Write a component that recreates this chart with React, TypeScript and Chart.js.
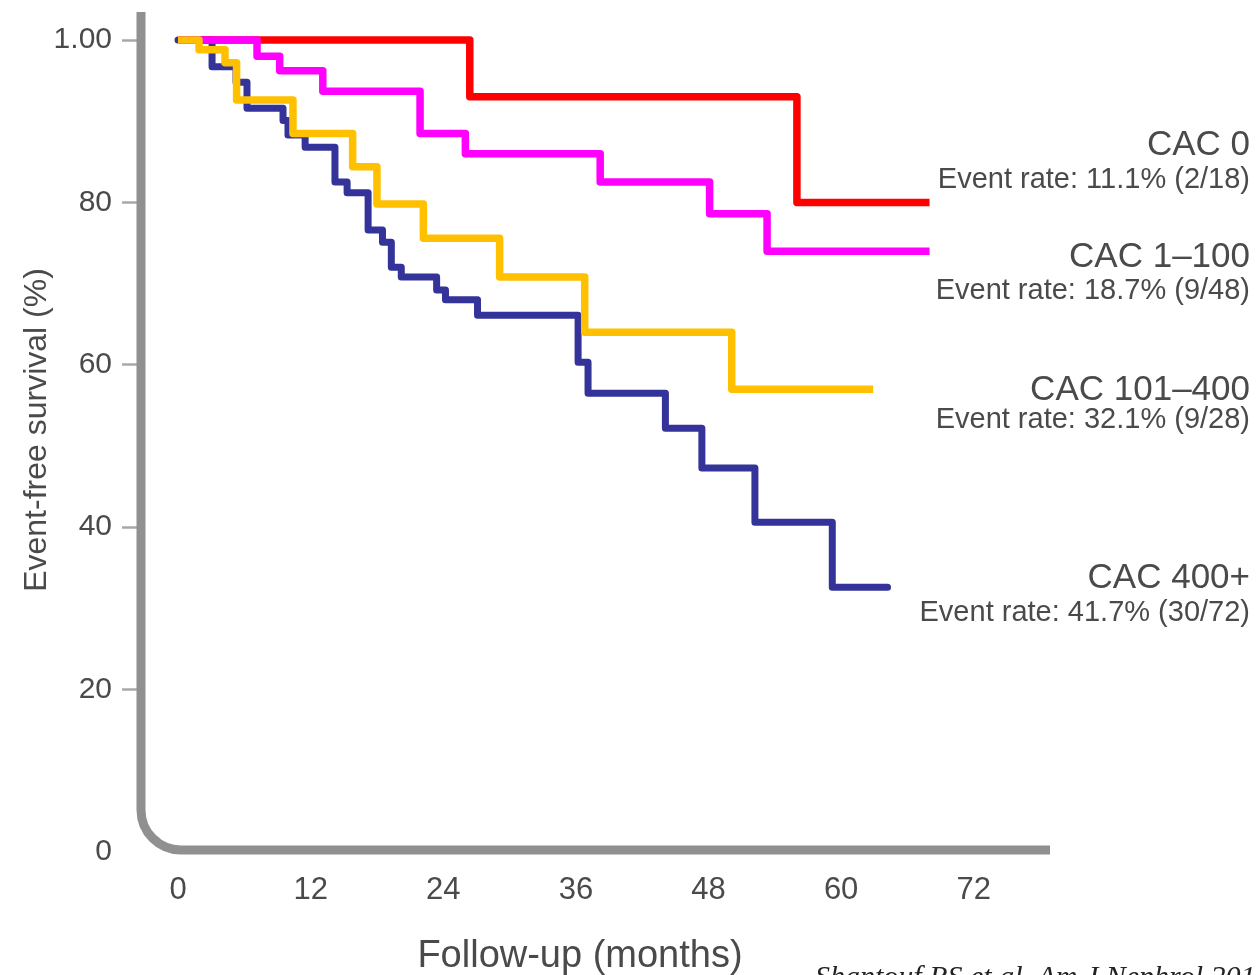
import { useEffect, useRef } from 'react';
import { Chart, registerables } from 'chart.js';

Chart.register(...registerables);

const seriesNames = ['CAC 0', 'CAC 1–100', 'CAC 101–400', 'CAC 400+'];
const eventRates = [
  'Event rate: 11.1% (2/18)',
  'Event rate: 18.7% (9/48)',
  'Event rate: 32.1% (9/28)',
  'Event rate: 41.7% (30/72)',
];
const seriesColors = ['#ff0000', '#ff00ff', '#ffc000', '#333399'];

const cac0Months = [0, 26.4, 56.0, 68.0];
const cac0Survival = [100, 93.0, 80.0, 80.0];

const cac1to100Months = [0, 7.15, 9.2, 13.1, 21.9, 26.0, 38.2, 48.1, 53.3, 68.0];
const cac1to100Survival = [100, 98.0, 96.2, 93.7, 88.5, 86.0, 82.5, 78.6, 74.0, 74.0];

const cac101to400Months = [0, 1.9, 4.25, 5.3, 10.4, 15.8, 18.0, 22.2, 29.1, 36.8, 50.1, 62.9];
const cac101to400Survival = [100, 98.8, 97.2, 92.6, 88.5, 84.4, 79.8, 75.6, 70.8, 64.0, 57.0, 57.0];

const cac400Months = [0, 3.08, 5.25, 6.24, 9.5, 9.95, 11.5, 14.2, 15.3, 17.2, 18.5, 19.3, 20.2, 23.4, 24.2, 27.1, 36.2, 37.1, 44.1, 47.4, 52.2, 59.2, 64.2];
const cac400Survival = [100, 96.7, 94.8, 91.6, 90.1, 88.3, 86.8, 82.5, 81.2, 76.6, 75.1, 72.0, 70.8, 69.2, 68.0, 66.1, 60.3, 56.5, 52.2, 47.3, 40.6, 32.6, 32.6];

const xTicks = [0, 12, 24, 36, 48, 60, 72];
const yTicks = [0, 20, 40, 60, 80, 100];
const yTickLabels = ['0', '20', '40', '60', '80', '1.00'];

const xTitle = 'Follow-up (months)';
const yTitle = 'Event-free survival (%)';
const citation = 'Shantouf RS et al. Am J Nephrol 2010';

const FONT = '"Liberation Sans", Arial, sans-serif';
const TEXT = '#4a4a4a';

const toPoints = (xs: number[], ys: number[]) => xs.map((x, i) => ({ x, y: ys[i] }));

const axisPlugin = {
  id: 'roundedAxes',
  beforeDatasetsDraw(chart: any) {
    const { ctx, chartArea } = chart;
    const x0 = chartArea.left;
    const y0 = chart.scales.y.getPixelForValue(0) - 2;
    const r = 40;
    ctx.save();
    ctx.strokeStyle = '#909090';
    ctx.lineWidth = 9;
    ctx.beginPath();
    ctx.moveTo(x0, chartArea.top);
    ctx.lineTo(x0, y0 - r);
    ctx.arcTo(x0, y0, x0 + r, y0, r);
    ctx.lineTo(chartArea.right, y0);
    ctx.stroke();
    ctx.restore();
  },
};

const textPlugin = {
  id: 'textLabels',
  afterDraw(chart: any) {
    const { ctx } = chart;
    ctx.save();
    ctx.fillStyle = TEXT;
    ctx.textAlign = 'right';
    ctx.textBaseline = 'alphabetic';
    const nameBase = [155, 267, 400, 588];
    const rateBase = [188, 299, 428, 621];
    seriesNames.forEach((n, i) => {
      ctx.font = `35px ${FONT}`;
      ctx.fillText(n, 1250, nameBase[i]);
      ctx.font = `29px ${FONT}`;
      ctx.fillText(eventRates[i], 1250, rateBase[i]);
    });
    // axis titles
    ctx.font = `38px ${FONT}`;
    ctx.textAlign = 'center';
    ctx.fillText(xTitle, 580, 967);
    ctx.save();
    ctx.translate(37, 430);
    ctx.rotate(-Math.PI / 2);
    ctx.textBaseline = 'middle';
    ctx.font = `32px ${FONT}`;
    ctx.fillText(yTitle, 0, 0);
    ctx.restore();
    // citation
    ctx.font = `italic 30px "Liberation Serif", "Times New Roman", serif`;
    ctx.fillStyle = '#222';
    ctx.textAlign = 'left';
    ctx.textBaseline = 'alphabetic';
    ctx.fillText(citation, 815, 986);
    ctx.restore();
  },
};

export default function App() {
  const ref = useRef<HTMLCanvasElement>(null);
  useEffect(() => {
    if (!ref.current) return;
    const mk = (i: number, xs: number[], ys: number[], order: number, width: number) => ({
      label: seriesNames[i],
      data: toPoints(xs, ys),
      borderColor: seriesColors[i],
      backgroundColor: seriesColors[i],
      borderWidth: width,
      stepped: true,
      pointRadius: 0,
      fill: false,
      borderJoinStyle: 'round',
      borderCapStyle: i === 3 ? 'round' : 'butt',
      order,
    });
    const chart = new Chart(ref.current, {
      type: 'line',
      data: {
        datasets: [
          mk(0, cac0Months, cac0Survival, 3, 7.5),
          mk(1, cac1to100Months, cac1to100Survival, 2, 7.5),
          mk(2, cac101to400Months, cac101to400Survival, 1, 7.5),
          mk(3, cac400Months, cac400Survival, 4, 7),
        ] as any,
      },
      options: {
        responsive: false,
        animation: false,
        devicePixelRatio: 1,
        layout: { padding: { top: 12, right: 207, bottom: 0, left: 0 } },
        plugins: { legend: { display: false }, tooltip: { enabled: false } },
        scales: {
          x: {
            type: 'linear',
            min: -3.35,
            max: 78.9,
            afterFit: (s: any) => { s.height = 123; s.paddingLeft = 0; s.paddingRight = 0; },
            afterBuildTicks: (s: any) => { s.ticks = xTicks.map((v) => ({ value: v })); },
            border: { display: false },
            grid: { display: true, drawOnChartArea: false, drawTicks: false, color: 'transparent' },
            ticks: {
              padding: 20,
              color: TEXT,
              font: { family: FONT, size: 31 },
              maxRotation: 0,
              autoSkip: false,
              callback: (v: any) => String(v),
            },
          },
          y: {
            type: 'linear',
            min: 0,
            max: 103.45,
            afterFit: (s: any) => { s.width = 141; s.paddingTop = 0; s.paddingBottom = 0; },
            afterBuildTicks: (s: any) => { s.ticks = yTicks.map((v) => ({ value: v })); },
            border: { display: false },
            grid: {
              drawOnChartArea: false,
              drawTicks: true,
              tickLength: 19,
              tickWidth: 2.5,
              tickColor: (c: any) => (c.tick && c.tick.value === 0 ? 'rgba(0,0,0,0)' : '#a8a8a8'),
            },
            ticks: {
              padding: 10,
              color: TEXT,
              font: { family: FONT, size: 30 },
              autoSkip: false,
              callback: (v: any) => {
                const idx = yTicks.indexOf(Number(v));
                return idx >= 0 ? yTickLabels[idx] : '';
              },
            },
          },
        },
      },
      plugins: [axisPlugin, textPlugin],
    });
    return () => chart.destroy();
  }, []);
  return (
    <div style={{ position: 'absolute', left: 0, top: 0, width: 1257, height: 975, background: '#fff' }}>
      <canvas ref={ref} width={1257} height={975} style={{ display: 'block' }} />
    </div>
  );
}
